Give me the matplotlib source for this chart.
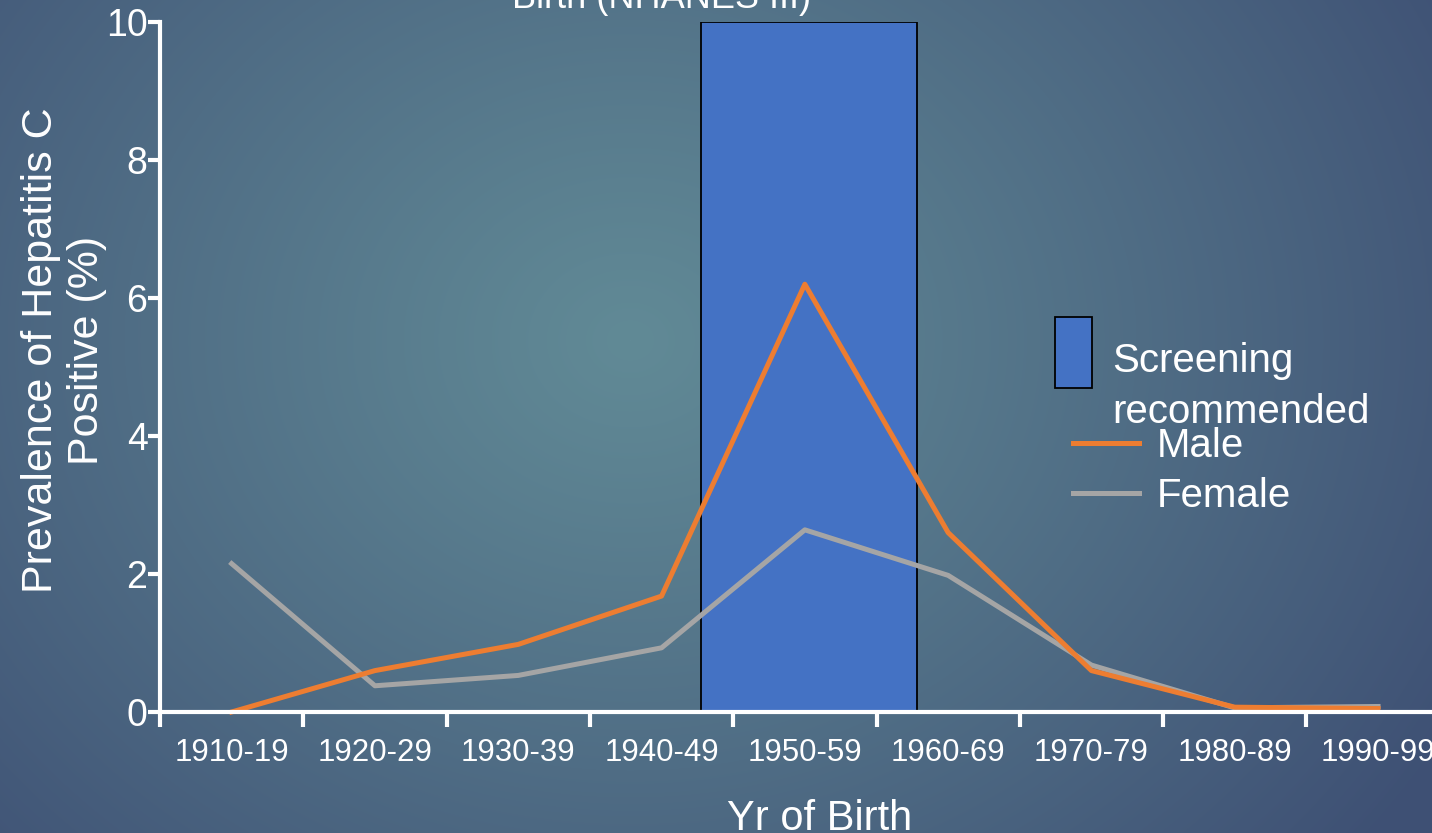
import numpy as np
import matplotlib.pyplot as plt

plt.rcParams['font.family'] = ['Liberation Sans', 'DejaVu Sans']

# data
decades = ['1910-19', '1920-29', '1930-39', '1940-49', '1950-59',
           '1960-69', '1970-79', '1980-89', '1990-99']
male = [0.0, 0.6, 0.98, 1.68, 6.2, 2.6, 0.6, 0.07, 0.05]
female = [2.15, 0.38, 0.53, 0.93, 2.64, 1.98, 0.68, 0.06, 0.08]
screen_decade = '1950-59'
screen_height = 10

W, H = 1432, 833
fig = plt.figure(figsize=(W / 100, H / 100), dpi=100)

# background radial gradient
bg = fig.add_axes([0, 0, 1, 1], zorder=-10)
yy, xx = np.mgrid[0:H, 0:W]
cx, cy = 630, 340
r = np.sqrt((xx - cx) ** 2 + ((yy - cy) / 0.85) ** 2)
t = np.clip(r / 950.0, 0, 1) ** 1.1
c0 = np.array([97, 138, 150]) / 255.0
c1 = np.array([62, 80, 116]) / 255.0
img = c0[None, None, :] * (1 - t[..., None]) + c1[None, None, :] * t[..., None]
bg.imshow(img, aspect='auto', extent=[0, W, H, 0])
bg.axis('off')

ax = fig.add_axes([160 / W, 1 - 712 / H, 1 - 160 / W, (712 - 22) / H])
ax.patch.set_alpha(0)

x = np.arange(len(decades))
bar = ax.bar(decades.index(screen_decade) + 0.03, screen_height, width=1.51,
             color='#4472C4', edgecolor='black', linewidth=1.3, zorder=1)
lm, = ax.plot(x, male, color='#ED7D31', lw=3.6, zorder=3, clip_on=False)
lf, = ax.plot(x, female, color='#A5A5A5', lw=3.6, zorder=2, clip_on=False)

for s in ['top', 'right']:
    ax.spines[s].set_visible(False)
for s in ['left', 'bottom']:
    ax.spines[s].set_color('white')
    ax.spines[s].set_linewidth(3)
    ax.spines[s].set_zorder(4)

ax.set_yticks([0, 2, 4, 6, 8, 10])
ax.tick_params(axis='y', colors='white', labelsize=27, length=9, width=3, pad=0)
ax.set_xticks(x)
ax.set_xticklabels(decades)
ax.set_xticks(np.arange(-0.5, 9, 1), minor=True)
ax.tick_params(axis='x', which='major', length=0, labelsize=22.5, colors='white', pad=19)
ax.tick_params(axis='x', which='minor', length=11, width=3, colors='white')
for lab in ax.get_xticklabels():
    lab.set_clip_on(False)

ax.set_xlim(-0.5, -0.5 + (W - 160) / 143.3)
ax.set_ylim(0, 10)

fig.text(820 / W, 1 - 830 / H, 'Yr of Birth', ha='center', va='baseline',
         fontsize=30, color='white')
fig.text(64 / W, 1 - 350 / H, 'Prevalence of Hepatitis C\nPositive (%)', rotation=90,
         ha='center', va='center', multialignment='center', fontsize=31,
         color='white', linespacing=1.22)
fig.text(662 / W, 1 - 8 / H, 'Birth (NHANES III)', ha='center', va='baseline',
         fontsize=26, color='white')

# legend: screening box
leg1 = ax.legend([bar.patches[0]], [''], loc='upper left',
                 bbox_to_anchor=(1055 / W, 1 - 317 / H), bbox_transform=fig.transFigure,
                 frameon=False, fontsize=29, handlelength=0.92,
                 handleheight=2.33, handletextpad=0, borderpad=0, borderaxespad=0)
ax.add_artist(leg1)
fig.text(1112 / W, 1 - 423 / H, 'Screening\nrecommended', ha='left', va='baseline',
         fontsize=29, color='white', linespacing=1.42)
ax.legend([lm, lf], ['Male', 'Female'], loc='upper left',
          bbox_to_anchor=(1073 / W, 1 - 427 / H), bbox_transform=fig.transFigure,
          frameon=False, fontsize=29, labelcolor='white', handlelength=1.64,
          handletextpad=0.45, labelspacing=0.3, borderpad=0, borderaxespad=0)

fig.savefig('out.png', dpi=100)
